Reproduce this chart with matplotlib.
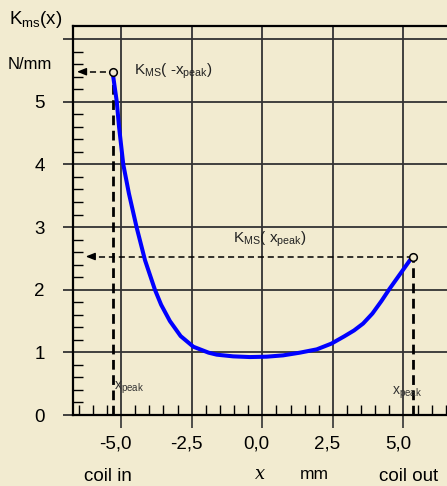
import matplotlib
matplotlib.use("Agg")
import matplotlib.pyplot as plt
import matplotlib.transforms as mtransforms
import numpy as np

plt.rcParams['font.family'] = ['Liberation Sans', 'DejaVu Sans']
plt.rcParams['mathtext.fontset'] = 'custom'
plt.rcParams['mathtext.rm'] = 'Liberation Sans'
plt.rcParams['mathtext.it'] = 'Liberation Sans:italic'

# ---- data ----
x_mm = [-5.30, -5.15, -5.07, -4.92, -4.72, -4.45, -4.15, -3.80, -3.58, -3.27,
        -2.89, -2.44, -1.90, -1.61, -1.03, -0.44, 0.16, 0.74, 1.33, 1.93,
        2.45, 2.90, 3.25, 3.57, 3.90, 4.22, 4.50, 4.91, 5.32]
k_ms = [5.48, 5.00, 4.60, 4.00, 3.535, 3.00, 2.47, 2.00, 1.76, 1.50,
        1.26, 1.09, 0.995, 0.963, 0.936, 0.925, 0.931, 0.952, 0.995, 1.048,
        1.14, 1.255, 1.35, 1.46, 1.62, 1.82, 2.01, 2.27, 2.53]
x_ticks = [-5.0, -2.5, 0.0, 2.5, 5.0]
x_tick_labels = ['-5,0', '-2,5', '0,0', '2,5', '5,0']
y_ticks = [0, 1, 2, 3, 4, 5, 6]
y_tick_labels = ['0', '1', '2', '3', '4', '5', '']
peak_left = (-5.30, 5.48)
peak_right = (5.32, 2.53)

BG = '#F2EBD0'
fig = plt.figure(figsize=(4.47, 4.86), dpi=100, facecolor=BG)
ax = fig.add_axes([73/447, 1-415/486, 1-73/447, (415-26)/486])
ax.set_facecolor(BG)
ax.set_xlim(-6.70, 6.54)
ax.set_ylim(0, 6.21)

# grid
for xv in x_ticks:
    ax.axvline(xv, color='#333333', lw=1.3, zorder=1)
for yv in y_ticks[1:]:
    ax.axhline(yv, color='#333333', lw=1.3, zorder=1)

# spines
for s in ['left', 'bottom', 'top']:
    ax.spines[s].set_linewidth(1.6)
    ax.spines[s].set_color('black')
ax.spines['right'].set_visible(False)

ax.set_xticks(x_ticks)
ax.set_xticklabels(x_tick_labels, fontsize=13.5)
ax.set_yticks(y_ticks)
ax.set_yticklabels(y_tick_labels, fontsize=13.5)
ax.set_xticks(np.arange(-6.5, 6.51, 0.5), minor=True)
ax.set_yticks(np.arange(0, 6.2, 0.2), minor=True)
ax.tick_params(axis='x', which='major', direction='out', length=9.5, width=1.2,
               pad=5, color='#333333')
ax.tick_params(axis='y', which='major', direction='out', length=7.5, width=1.3,
               pad=13, color='#333333')
ax.tick_params(axis='x', which='minor', direction='in', length=7, width=1.0)
ax.tick_params(axis='y', which='minor', direction='in', length=7, width=1.0)
shift = mtransforms.ScaledTranslation(-5.5/100, 0, fig.dpi_scale_trans)
for lab in ax.get_xticklabels():
    lab.set_transform(lab.get_transform() + shift)

# dashed guide lines
ax.plot([peak_left[0], peak_left[0]], [0, peak_left[1]], ls=(0, (3.5, 2)),
        color='black', lw=2.0, zorder=2)
ax.plot([peak_right[0], peak_right[0]], [0, peak_right[1]], ls=(0, (3.5, 2)),
        color='black', lw=2.0, zorder=2)
ax.plot([-6.45, peak_left[0]], [peak_left[1]]*2, ls=(0, (4, 2.5)),
        color='black', lw=1.1, zorder=2)
ax.plot([-6.15, peak_right[0]], [peak_right[1]]*2, ls=(0, (4, 2.5)),
        color='black', lw=1.1, zorder=2)
ax.annotate('', xy=(-6.56, peak_left[1]), xytext=(-6.3, peak_left[1]),
            arrowprops=dict(arrowstyle='-|>,head_length=0.55,head_width=0.22',
                            color='black', lw=1.0, shrinkA=0, shrinkB=0))
ax.annotate('', xy=(-6.25, peak_right[1]), xytext=(-6.0, peak_right[1]),
            arrowprops=dict(arrowstyle='-|>,head_length=0.55,head_width=0.22',
                            color='black', lw=1.0, shrinkA=0, shrinkB=0))

# curve
ax.plot(x_mm, k_ms, color='#0000FF', lw=2.9, zorder=3,
        solid_capstyle='butt', solid_joinstyle='round')
ax.plot([peak_left[0], peak_right[0]], [peak_left[1], peak_right[1]], 'o',
        ms=5.5, mfc=BG, mec='black', mew=1.1, zorder=4, ls='none')

# annotation texts
ax.text(-4.55, peak_left[1], r'K$_{\mathregular{MS}}$( -x$_{\mathregular{peak}}$)',
        fontsize=11, va='center', ha='left', color='#222222')
ax.text(-1.05, 2.80, r'K$_{\mathregular{MS}}$( x$_{\mathregular{peak}}$)',
        fontsize=11, va='center', ha='left', color='#222222')
ax.text(-5.25, 0.44, r'x$_{\mathregular{peak}}$', fontsize=10, va='center',
        ha='left', color='#333333')
ax.text(4.60, 0.35, r'x$_{\mathregular{peak}}$', fontsize=10, va='center',
        ha='left', color='#333333')

# figure labels
fig.text(9/447, 1-20/486, r'K$_{\mathregular{ms}}$(x)', fontsize=13.5,
         va='center', ha='left')
fig.text(8/447, 1-64/486, 'N/mm', fontsize=12, va='center', ha='left')
fig.text(108/447, 1-476/486, 'coil in', fontsize=13.5, va='center', ha='center')
fig.text(260/447, 1-474/486, 'x', fontsize=13, va='center', ha='center',
         family='DejaVu Serif', style='italic')
fig.text(314/447, 1-474/486, 'mm', fontsize=12.5, va='center', ha='center')
fig.text(409/447, 1-476/486, 'coil out', fontsize=13.5, va='center', ha='center')

fig.savefig('out.png', dpi=100, facecolor=BG)
